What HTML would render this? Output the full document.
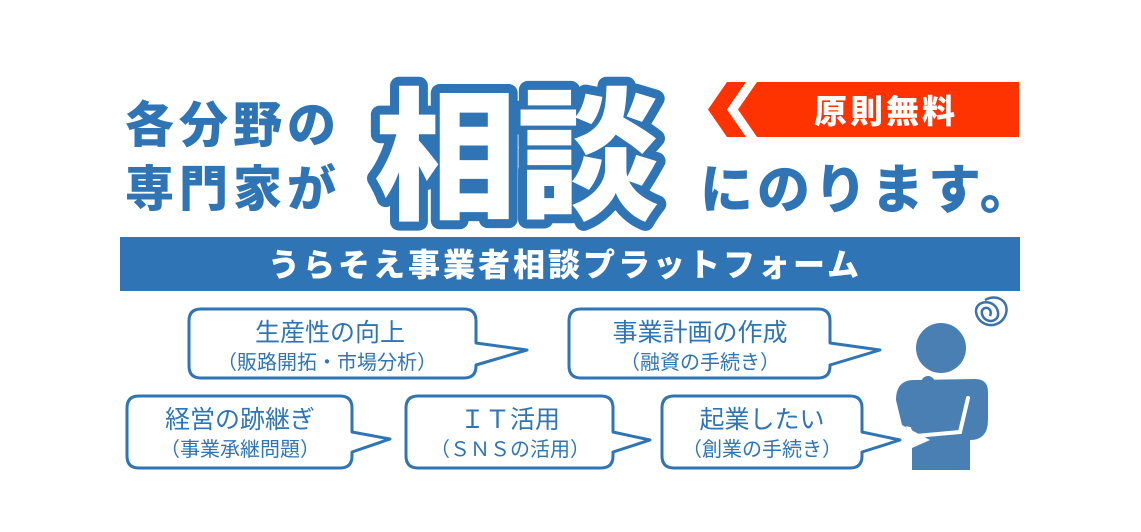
<!DOCTYPE html>
<html><head><meta charset="utf-8"><style>
body{margin:0;background:#fff;}
#c{position:relative;width:1141px;height:532px;overflow:hidden;font-family:"Liberation Sans","Noto Sans CJK JP",sans-serif;}
</style></head><body><div id="c">
<svg width="1141" height="532" style="position:absolute;left:0;top:0">
 <g font-family="Liberation Sans,Noto Sans CJK JP,sans-serif" font-weight="900">
  <text x="125" y="142" font-size="49" fill="#2f75b5" letter-spacing="5">各分野の</text>
  <text x="125" y="206" font-size="49" fill="#2f75b5" letter-spacing="5">専門家が</text>
  <text x="374" y="208" font-size="143" fill="#fff" stroke="#2f75b5" stroke-width="18" stroke-linejoin="round" paint-order="stroke">相談</text>
  <text x="700" y="208" font-size="53" fill="#2f75b5" letter-spacing="4">にのります。</text>
 </g>
 <polygon points="738,82 1019,82 1019,137 738,137 719,109.5" fill="#ff3300"/>
 <polygon points="708,109.5 727,82 746,82 727,109.5 746,137 727,137" fill="#ff3300"/>
 <polygon points="727,109.5 746,82 757,82 738,109.5 757,137 746,137" fill="#fff"/>
 <text x="814" y="123" font-size="33" font-weight="900" fill="#fff" font-family="Liberation Sans,Noto Sans CJK JP,sans-serif" letter-spacing="3">原則無料</text>
 <rect x="120" y="237" width="900" height="54" fill="#2f75b5"/>
 <text x="565" y="276" text-anchor="middle" font-size="32" font-weight="900" fill="#fff" font-family="Liberation Sans,Noto Sans CJK JP,sans-serif" letter-spacing="3">うらそえ事業者相談プラットフォーム</text>
 <g fill="#fff" stroke="#2f75b5" stroke-width="3" stroke-linejoin="round">
  <path d="M201,309 H464 Q476,309 476,321 V343 L527,350 L476,365 V366 Q476,378 464,378 H201 Q189,378 189,366 V321 Q189,309 201,309Z"/>
  <path d="M581,309 H818 Q830,309 830,321 V343 L880,350 L830,365 V366 Q830,378 818,378 H581 Q569,378 569,366 V321 Q569,309 581,309Z"/>
  <path d="M139,396 H340 Q352,396 352,408 V432 L390,439 L352,452 V456 Q352,468 340,468 H139 Q127,468 127,456 V408 Q127,396 139,396Z"/>
  <path d="M418,396 H601 Q613,396 613,408 V432 L650,440 L613,452 V456 Q613,468 601,468 H418 Q406,468 406,456 V408 Q406,396 418,396Z"/>
  <path d="M674,396 H850 Q862,396 862,408 V432 L900,440 L862,452 V456 Q862,468 850,468 H674 Q662,468 662,456 V408 Q662,396 674,396Z"/>
 </g>
 <g font-family="Liberation Sans,Noto Sans CJK JP,sans-serif" fill="#2f75b5" text-anchor="middle">
  <text x="330" y="341" font-size="25">生産性の向上</text>
  <text x="327" y="369" font-size="20">（販路開拓・市場分析）</text>
  <text x="700" y="341" font-size="25">事業計画の作成</text>
  <text x="700" y="369" font-size="20">（融資の手続き）</text>
  <text x="240" y="428" font-size="25">経営の跡継ぎ</text>
  <text x="240" y="456" font-size="20">（事業承継問題）</text>
  <text x="510" y="428" font-size="25">ＩＴ活用</text>
  <text x="510" y="456" font-size="20">（ＳＮＳの活用）</text>
  <text x="762" y="428" font-size="25">起業したい</text>
  <text x="762" y="456" font-size="20">（創業の手続き）</text>
 </g>
 <g fill="#4a7fb4">
  <circle cx="941" cy="348" r="25"/>
  <path d="M914,380 Q896,380 896,400 L902,425 L930,440 L912,448 V470 H970 V440 Q988,440 988,420 V392 Q988,379 975,379 Z"/>
 </g>
 <g fill="none" stroke="#fff" stroke-width="4" stroke-linecap="round">
  <path d="M928,383 L910,420 Q905,430 916,436 L960,432 L968,398"/>
 </g>
 <path d="M928,383 L910,420" stroke="#4a7fb4" stroke-width="14" stroke-linecap="round"/>
 <g fill="none" stroke="#3b72ad" stroke-width="2.5">
  <path d="M985,300 C1000,292 1012,305 1004,318 C996,330 978,326 976,312 C975,300 995,298 998,312 C1000,322 985,325 982,314 C980,305 994,306 990,316"/>
 </g>
</svg>
</div></body></html>
